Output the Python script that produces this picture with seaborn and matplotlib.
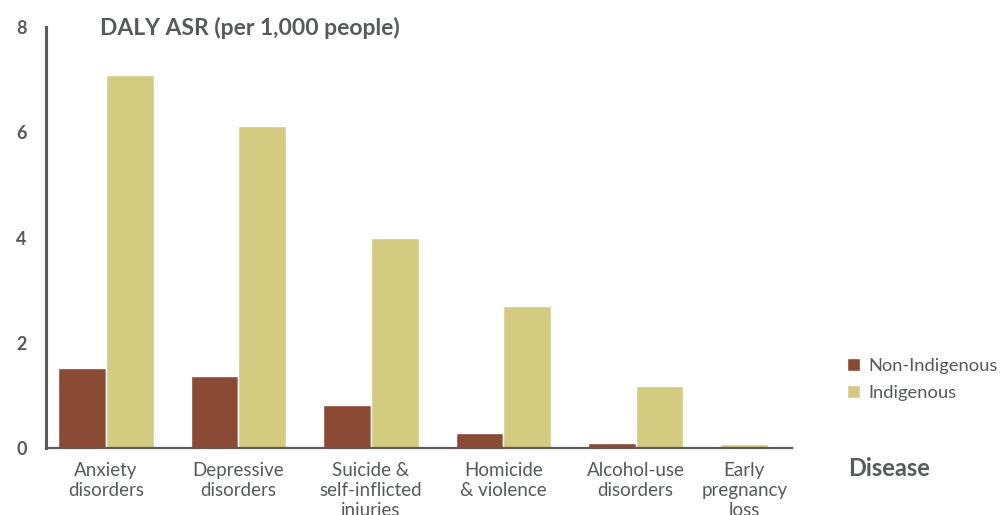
"""
plot.py

Grouped bar chart: DALY age-standardised rate, Indigenous vs Non-Indigenous.
"""

import numpy as np
import pandas as pd
import matplotlib.pyplot as plt
import seaborn as sns

#data
diseases = [
    "Anxiety\ndisorders",
    "Depressive\ndisorders",
    "Suicide &\nself-inflicted\ninjuries",
    "Homicide\n& violence",
    "Alcohol-use\ndisorders",
    "Early\npregnancy\nloss",
]
non_indigenous = [1.53, 1.37, 0.82, 0.29, 0.10, np.nan]
indigenous = [7.09, 6.12, 3.99, 2.70, 1.18, 0.08]
groups = ["Non-Indigenous", "Indigenous"]
y_ticks = [0, 2, 4, 6, 8]

#style config
TEXT_COL = "#565a5a"
AXIS_COL = "#5b5b5b"
COLORS = {"Non-Indigenous": "#8b4a33", "Indigenous": "#d2cb80"}

sns.set_theme(style="white")
plt.rcParams["font.family"] = ["Lato", "DejaVu Sans"]

df = pd.DataFrame({
    "disease": diseases * 2,
    "group": [groups[0]] * len(diseases) + [groups[1]] * len(diseases),
    "value": non_indigenous + indigenous,
})

fig = plt.figure(figsize=(10.03, 5.15), dpi=100)
ax = fig.add_axes([0.0459, 0.130, 0.7437, 0.8176])

sns.barplot(
    data=df, x="disease", y="value", hue="group",
    order=diseases, hue_order=groups, palette=COLORS,
    width=0.72, gap=0, saturation=1, errorbar=None, ax=ax, legend=True,
)

#categories with a missing Non-Indigenous value: the Indigenous bar takes the first slot
tick_pos = [float(i) for i in range(len(diseases))]
bars = [p for p in ax.patches if p.get_height() > 0]
bar_w = bars[0].get_width()
for i, v in enumerate(non_indigenous):
    if np.isnan(v):
        for bar in bars:
            cx = bar.get_x() + bar_w / 2
            if abs(cx - (i + bar_w / 2)) < 1e-6:
                bar.set_x(bar.get_x() - bar_w)
                tick_pos[i] = bar.get_x() + bar_w / 2

ax.set_xticks(tick_pos)
ax.set_xticklabels(diseases, linespacing=1.2)
ax.set_xlim(-0.453, 5.18)
ax.set_ylim(0, 8)
ax.set_yticks(y_ticks)

sns.despine(ax=ax, top=True, right=True)
for side in ["left", "bottom"]:
    ax.spines[side].set_color(AXIS_COL)
ax.spines["left"].set_linewidth(2.2)
ax.spines["bottom"].set_linewidth(1.6)

ax.tick_params(axis="y", length=8, width=2.2, color=AXIS_COL, pad=6,
               labelsize=13, labelcolor=TEXT_COL)
ax.tick_params(axis="x", length=0, pad=10, labelsize=13.5, labelcolor=TEXT_COL)
for lab in ax.get_yticklabels():
    lab.set_fontweight("bold")
ax.set_xlabel("")
ax.set_ylabel("")

#title and axis name as free text like the original
fig.text(100 / 1003, 1 - 28 / 515, "DALY ASR (per 1,000 people)",
         fontsize=16.5, fontweight="bold", color=TEXT_COL, va="center", ha="left")
fig.text(848 / 1003, 1 - 468 / 515, "Disease",
         fontsize=17, fontweight="bold", color=TEXT_COL, va="center", ha="left")

ax.legend(
    loc="upper left", bbox_to_anchor=(847 / 1003, 1 - 358 / 515),
    bbox_transform=fig.transFigure, frameon=False, fontsize=13.2,
    handlelength=0.7, handleheight=0.7, handletextpad=0.45,
    labelspacing=0.6, labelcolor=TEXT_COL, borderaxespad=0, borderpad=0,
)

fig.savefig("out.png", dpi=100)
plt.close(fig)
